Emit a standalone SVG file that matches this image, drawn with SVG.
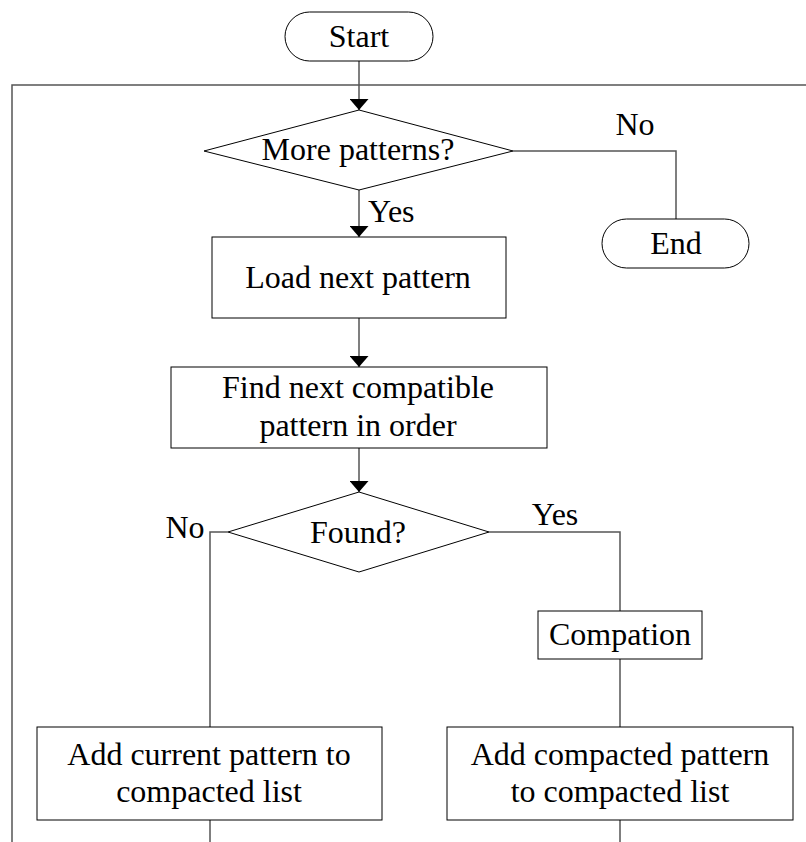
<svg xmlns="http://www.w3.org/2000/svg" width="806" height="842" viewBox="0 0 806 842">
<style>
.shape{fill:#fff;stroke:#000;stroke-width:1}
.conn{fill:none;stroke:#555;stroke-width:1.5}
text{font-family:"Liberation Serif","Times New Roman",serif;font-size:32px;fill:#000}
.c{text-anchor:middle}
</style>
<defs>
<marker id="arr" markerUnits="userSpaceOnUse" viewBox="0 0 11 19" refX="11" refY="9.5" markerWidth="11" markerHeight="19" orient="auto">
<path d="M0,0 L11,9.5 L0,19 z" fill="#000"/>
</marker>
</defs>
<rect width="806" height="842" fill="#fff"/>
<g id="connectors">
<path class="conn" d="M12,842 V85 H806"/>
<path class="conn" d="M359,61 V110" marker-end="url(#arr)"/>
<path class="conn" d="M513,151 H676 V219"/>
<path class="conn" d="M359,190 V237" marker-end="url(#arr)"/>
<path class="conn" d="M359,318 V367" marker-end="url(#arr)"/>
<path class="conn" d="M359,448 V492" marker-end="url(#arr)"/>
<path class="conn" d="M228,532 H210 V727"/>
<path class="conn" d="M489,532 H620 V611"/>
<path class="conn" d="M620,659 V727"/>
<path class="conn" d="M210,820 V842"/>
<path class="conn" d="M620,820 V842"/>
<text x="635" y="135" class="c">No</text>
<text x="368" y="222">Yes</text>
<text x="185" y="538" class="c">No</text>
<text x="555" y="525" class="c">Yes</text>
</g>
<g id="start">
<rect class="shape" x="285" y="12" width="148" height="49" rx="24.5"/>
<text x="359" y="47" class="c">Start</text>
</g>
<g id="more-patterns">
<polygon class="shape" points="359,110 513,151 359,190 204,151"/>
<text x="358" y="160" class="c">More patterns?</text>
</g>
<g id="end">
<rect class="shape" x="602" y="219" width="147" height="49" rx="24.5"/>
<text x="676" y="254" class="c">End</text>
</g>
<g id="load-next">
<rect class="shape" x="212" y="237" width="294" height="81"/>
<text x="358" y="288" class="c">Load next pattern</text>
</g>
<g id="find-next">
<rect class="shape" x="171" y="367" width="376" height="81"/>
<text x="358" y="398" class="c">Find next compatible</text>
<text x="358" y="436" class="c">pattern in order</text>
</g>
<g id="found">
<polygon class="shape" points="359,492 489,532 359,572 228,532"/>
<text x="358" y="543" class="c">Found?</text>
</g>
<g id="compation">
<rect class="shape" x="538" y="611" width="164" height="48"/>
<text x="620" y="645" class="c">Compation</text>
</g>
<g id="add-current">
<rect class="shape" x="37" y="727" width="345" height="93"/>
<text x="209" y="765" class="c">Add current pattern to</text>
<text x="209" y="802" class="c">compacted list</text>
</g>
<g id="add-compacted">
<rect class="shape" x="447" y="727" width="346" height="93"/>
<text x="620" y="765" class="c">Add compacted pattern</text>
<text x="620" y="802" class="c">to compacted list</text>
</g>
</svg>
